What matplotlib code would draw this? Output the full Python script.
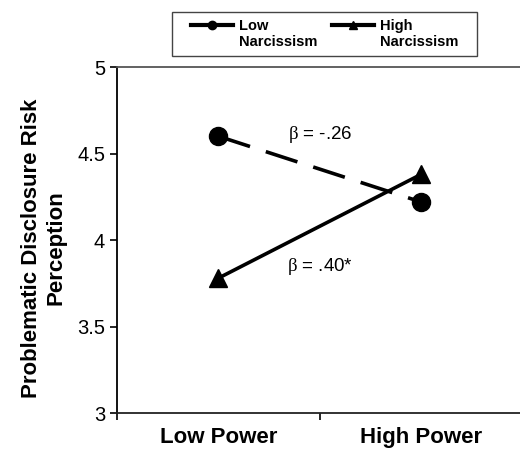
import matplotlib.pyplot as plt
from matplotlib.lines import Line2D
from matplotlib.patches import Rectangle
from matplotlib.legend_handler import HandlerLine2D

plt.rcParams['font.family'] = ['Liberation Sans', 'DejaVu Sans']
plt.rcParams['mathtext.fontset'] = 'custom'
plt.rcParams['mathtext.rm'] = 'Liberation Serif'

conditions = ["Low Power", "High Power"]
low_narc = [4.60, 4.22]
high_narc = [3.78, 4.38]
yticks = [3, 3.5, 4, 4.5, 5]
ytick_labels = ["3", "3.5", "4", "4.5", "5"]
beta_low = r"$\mathrm{\beta}$ = -.26"
beta_high = r"$\mathrm{\beta}$ = .40*"

xpos = [0.5, 1.5]


# legend handles sit level with the first line of the label
class RaisedHandler(HandlerLine2D):
    def create_artists(self, legend, orig_handle, xdescent, ydescent,
                       width, height, fontsize, trans):
        return super().create_artists(legend, orig_handle, xdescent,
                                      ydescent - 13, width, height,
                                      fontsize, trans)


fig = plt.figure(figsize=(5.2, 4.5), dpi=100)
ax = fig.add_axes([0.225, 0.082, 0.78, 0.769])

ax.plot(xpos, low_narc, color="black", lw=2.6, linestyle=(0, (9.2, 4.6)),
        marker="o", markersize=13)
ax.plot(xpos, high_narc, color="black", lw=2.6, marker="^", markersize=13)

ax.text(1.0, 4.61, beta_low, ha="center", va="center", fontsize=13.5)
ax.text(1.0, 3.845, beta_high, ha="center", va="center", fontsize=13.5)

ax.set_xlim(0, 2)
ax.set_ylim(3, 5)
ax.set_yticks(yticks)
ax.set_yticklabels(ytick_labels, fontsize=14.5)
ax.set_xticks([0, 1, 2])
ax.set_xticklabels([])
ax.set_xticks(xpos, minor=True)
ax.set_xticklabels(conditions, minor=True, fontsize=16, fontweight="bold")
ax.tick_params(axis="x", which="minor", length=0, pad=10)
ax.tick_params(axis="both", which="major", length=5, width=1.2,
               direction="out", pad=3.5)
ax.spines["right"].set_visible(False)
ax.spines["top"].set_color("#555555")
ax.spines["top"].set_linewidth(1.3)
ax.spines["left"].set_linewidth(1.3)
ax.spines["bottom"].set_linewidth(1.3)
ax.spines["bottom"].set_color("#222222")

ax.set_ylabel("Problematic Disclosure Risk\nPerception", fontsize=16,
              fontweight="bold")
ax.yaxis.set_label_coords(-0.125, 0.477)

handles = [Line2D([], [], color="black", lw=3, marker="o", markersize=6),
           Line2D([], [], color="black", lw=3, marker="^", markersize=6)]
leg = fig.legend(handles, ["Low\nNarcissism", "High\nNarcissism"],
                 loc="center", bbox_to_anchor=(324.5 / 520, 1 - 34 / 450),
                 ncol=2, frameon=False,
                 prop={"weight": "bold", "size": 10.5}, handlelength=2.9,
                 handletextpad=0.4, columnspacing=1.0, borderpad=0.3,
                 labelspacing=0.1, borderaxespad=0,
                 handler_map={Line2D: RaisedHandler()})

fig.patches.append(Rectangle((172 / 520, 1 - 56 / 450), 305 / 520, 44 / 450,
                             transform=fig.transFigure, fill=False,
                             edgecolor="#444444", lw=1.0))

fig.savefig("out.png", dpi=100)
